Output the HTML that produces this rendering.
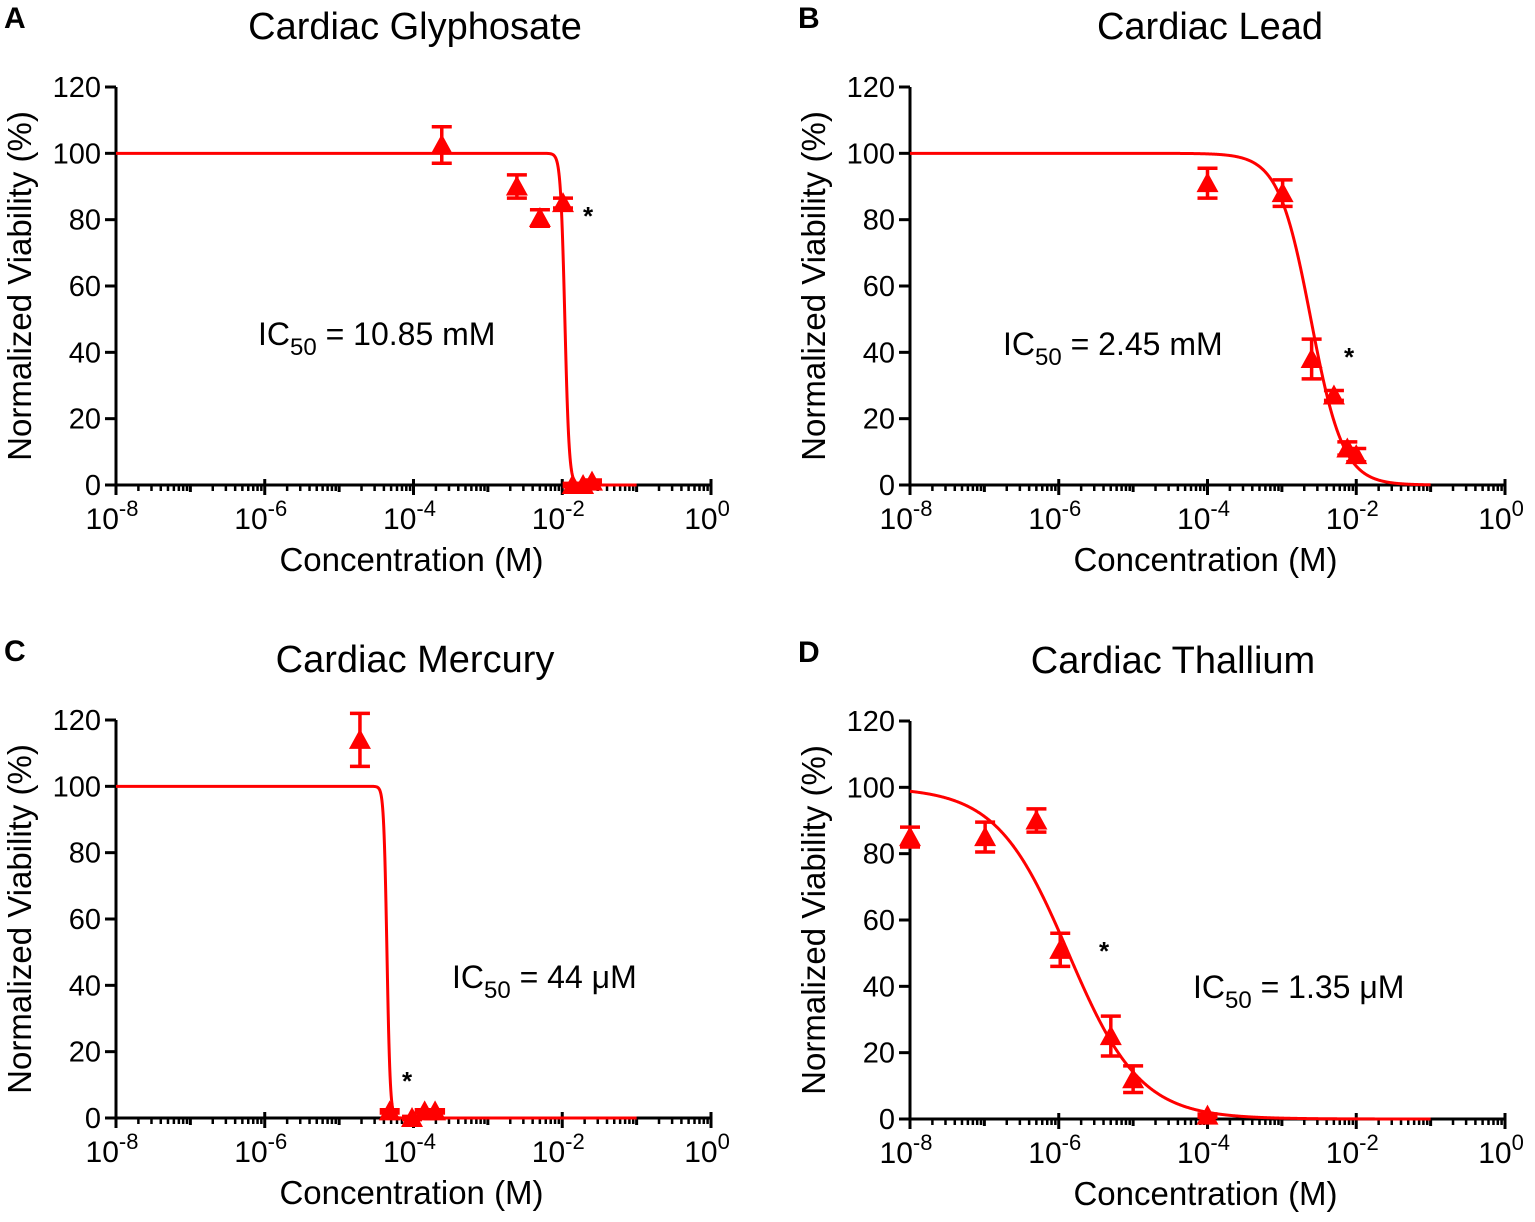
<!DOCTYPE html>
<html><head><meta charset="utf-8"><style>
body{margin:0;background:#fff;}
svg{display:block;font-family:"Liberation Sans",Arial,sans-serif;}
</style></head><body>
<svg id="fig" width="1535" height="1222" viewBox="0 0 1535 1222"></svg>
<script>
// Panel A data
const logA = [-3.62, -2.61, -2.30, -1.99, -1.86, -1.72, -1.60];
const valA = [102.5, 90, 80.5, 85, 0, 0, 1];
const errA = [5.5, 3.5, 2.5, 1.5, 0.5, 0.5, 0.5];
// Panel B data
const logB = [-4.0, -2.99, -2.60, -2.30, -2.12, -2.0];
const valB = [91, 88, 38, 27, 11, 9];
const errB = [4.5, 4, 6, 1.5, 2, 2];
// Panel C data
const logC = [-4.72, -4.32, -4.02, -3.85, -3.71];
const valC = [114, 2, 0, 2, 2];
const errC = [8, 0.5, 0.5, 0.5, 0.5];
// Panel D data
const logD = [-8, -6.99, -6.30, -5.98, -5.30, -5.0, -4.0];
const valD = [85, 85, 90, 51, 25, 12, 1];
const errD = [3, 4.5, 3.5, 5, 6, 4, 0.5];
// fit parameters: log IC50, hill slope
const fitA = [-1.965, 15];
const fitB = [-2.61, 2.0];
const fitC = [-4.357, 20];
const fitD = [-5.87, 0.9];
const yTicks = [0, 20, 40, 60, 80, 100, 120];
const xTicks = [-8, -6, -4, -2, 0];

const NS = 'http://www.w3.org/2000/svg';
const svg = document.getElementById('fig');
function mk(tag, attrs, parent) {
  const e = document.createElementNS(NS, tag);
  for (const k in attrs) e.setAttribute(k, attrs[k]);
  (parent || svg).appendChild(e);
  return e;
}
const panels = [
  {id:'a', letter:'A', title:'Cardiac Glyphosate', x0:116, y0:485, lx:logA, v:valA, er:errA, fit:fitA, ic:'10.85 mM', icx:258, icy:345, ax:588, ay:225, tx:415},
  {id:'b', letter:'B', title:'Cardiac Lead', x0:910, y0:485, lx:logB, v:valB, er:errB, fit:fitB, ic:'2.45 mM', icx:1003, icy:355, ax:1349, ay:366, tx:1210},
  {id:'c', letter:'C', title:'Cardiac Mercury', x0:116, y0:1118, lx:logC, v:valC, er:errC, fit:fitC, ic:'44 μM', icx:452, icy:988, ax:407, ay:1090, tx:415},
  {id:'d', letter:'D', title:'Cardiac Thallium', x0:910, y0:1119, lx:logD, v:valD, er:errD, fit:fitD, ic:'1.35 μM', icx:1193, icy:998, ax:1104, ay:960, tx:1173}
];
const dec = 595/8, yu = 398/120;
panels.forEach(p => {
  const g = mk('g', {});
  
  
  const X = l => p.x0 + (l + 8) * dec;
  const Y = v => p.y0 - v * yu;
  let t = mk('text', {x: p.x0 - 112, y: p.y0 - 457, 'font-size': 30, 'font-weight': 'bold'}, g);
  t.textContent = p.letter;
  
  
  t = mk('text', {x: p.tx, y: p.y0 - 446, 'font-size': 38, 'text-anchor': 'middle'}, g);
  t.textContent = p.title;
  
  
  const ax = mk('path', {d: `M${p.x0} ${Y(120)} V${p.y0} H${X(0)}`, stroke: '#000', 'stroke-width': 3, fill: 'none'}, g);
  
  
  yTicks.forEach(v => {
    const ln = mk('line', {x1: p.x0 - 11, x2: p.x0, y1: Y(v), y2: Y(v), stroke: '#000', 'stroke-width': 3}, g);
    
    
    const tt = mk('text', {x: p.x0 - 15, y: Y(v) + 10, 'font-size': 29, 'text-anchor': 'end'}, g);
    tt.textContent = v;
    
    
  });
  for (let d = -8; d <= 0; d++) {
    const major = d % 2 === 0;
    const ln = mk('line', {x1: X(d), x2: X(d), y1: major ? p.y0 - 6 : p.y0, y2: p.y0 + (major ? 10 : 7), stroke: '#000', 'stroke-width': 3}, g);
    
    
    if (d < 0) for (let m = 2; m <= 9; m++) {
      const xm = X(d + Math.log10(m));
      const mn = mk('line', {x1: xm, x2: xm, y1: p.y0, y2: p.y0 + 6, stroke: '#000', 'stroke-width': 2.5}, g);
      
      
    }
  }
  xTicks.forEach(d => {
    const tt = mk('text', {x: X(d) - 4, y: p.y0 + 44, 'font-size': 30, 'text-anchor': 'middle'}, g);
    tt.innerHTML = '10<tspan font-size="22" dy="-13">' + d + '</tspan>';
    
    
  });
  t = mk('text', {x: X(-4) - 2, y: p.y0 + 86, 'font-size': 33, 'text-anchor': 'middle'}, g);
  t.textContent = 'Concentration (M)';
  
  
  t = mk('text', {x: 0, y: 0, 'font-size': 33, 'text-anchor': 'middle', transform: `translate(${p.x0 - 85},${Y(60)}) rotate(-90)`}, g);
  t.textContent = 'Normalized Viability (%)';
  
  
  let d = '';
  for (let i = 0; i <= 1400; i++) {
    const l = -8 + 7 * i / 1400;
    const v = 100 / (1 + Math.pow(10, p.fit[1] * (l - p.fit[0])));
    d += (i ? 'L' : 'M') + X(l).toFixed(2) + ' ' + Y(v).toFixed(2);
  }
  const c = mk('path', {d: d, stroke: '#ff0000', 'stroke-width': 3, fill: 'none'}, g);
  
  
  p.lx.forEach((l, i) => {
    const cx = X(l), cy = Y(p.v[i]), e = p.er[i] * yu;
    const eb = mk('path', {d: `M${cx} ${cy - e} V${cy + e} M${cx - 10} ${cy - e} H${cx + 10} M${cx - 10} ${cy + e} H${cx + 10}`, stroke: '#ff0000', 'stroke-width': 3.5, fill: 'none'}, g);
    
    
    const tr = mk('polygon', {points: `${cx},${cy - 11} ${cx - 11},${cy + 9} ${cx + 11},${cy + 9}`, fill: '#ff0000'}, g);
    
    
  });
  t = mk('text', {x: p.icx, y: p.icy, 'font-size': 32}, g);
  t.innerHTML = 'IC<tspan font-size="24" dy="10">50</tspan><tspan dy="-10"> = ' + p.ic + '</tspan>';
  
  
  t = mk('text', {x: p.ax, y: p.ay, 'font-size': 26, 'font-weight': 'bold', 'text-anchor': 'middle'}, g);
  t.textContent = '*';
  
  
});
</script>
</body></html>
